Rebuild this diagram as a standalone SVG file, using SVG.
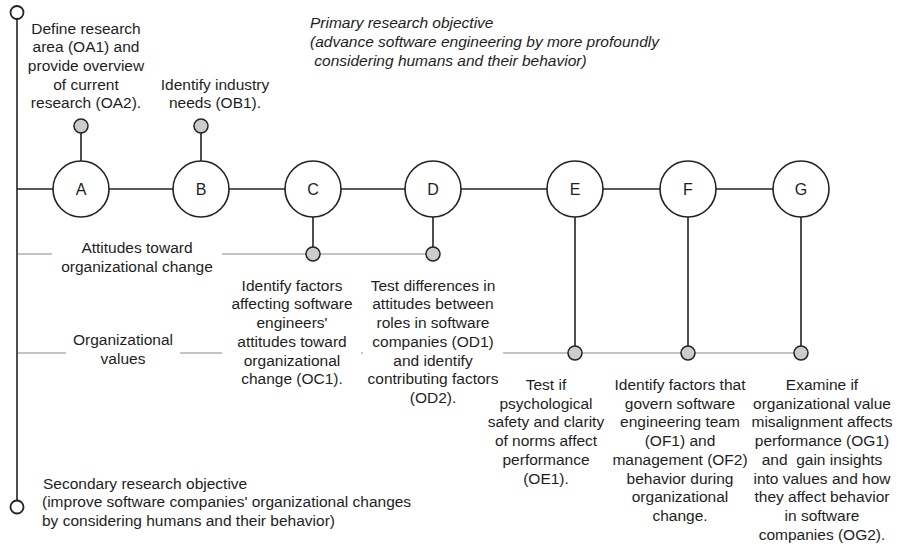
<svg xmlns="http://www.w3.org/2000/svg" width="898" height="548" viewBox="0 0 898 548">
<style>
text{font-family:"Liberation Sans",Arial,sans-serif;font-size:15.5px;fill:#1e1e1e}
.c{text-anchor:middle}
.it{font-style:italic}
.main{stroke:#222;stroke-width:1.6;fill:none}
.grey{stroke:#b0b0b0;stroke-width:1.6;fill:none}
.big{fill:#fff;stroke:#222;stroke-width:1.6}
.dot{fill:#cccccc;stroke:#222;stroke-width:1.5}
.end{fill:#fff;stroke:#222;stroke-width:1.8}
.lbl{font-size:16px;text-anchor:middle}
</style>
<rect width="898" height="548" fill="#fff"/>
<g id="connectors">
<line class="main" x1="17" y1="19" x2="17" y2="500"/>
<line class="main" x1="17" y1="189" x2="773" y2="189"/>
<line class="main" x1="81" y1="133" x2="81" y2="161"/>
<line class="main" x1="201" y1="133" x2="201" y2="161"/>
<line class="main" x1="313" y1="217" x2="313" y2="247"/>
<line class="main" x1="433" y1="217" x2="433" y2="247"/>
<line class="main" x1="575" y1="217" x2="575" y2="346"/>
<line class="main" x1="688" y1="217" x2="688" y2="346"/>
<line class="main" x1="801" y1="217" x2="801" y2="346"/>
<line class="grey" x1="18" y1="254" x2="52" y2="254"/>
<line class="grey" x1="222" y1="254" x2="426" y2="254"/>
<line class="grey" x1="18" y1="353" x2="66" y2="353"/>
<line class="grey" x1="180" y1="353" x2="222" y2="353"/>
<line class="grey" x1="361" y1="353" x2="363" y2="353"/>
<line class="grey" x1="503" y1="353" x2="794" y2="353"/>
</g>
<g id="start"><circle class="end" cx="17" cy="12.5" r="6.5"/></g>
<g id="finish"><circle class="end" cx="17" cy="507" r="6.5"/></g>
<g id="nodeA"><circle class="big" cx="81" cy="189" r="28"/><text class="lbl" x="81" y="195">A</text></g>
<g id="nodeB"><circle class="big" cx="201" cy="189" r="28"/><text class="lbl" x="201" y="195">B</text></g>
<g id="nodeC"><circle class="big" cx="313" cy="189" r="28"/><text class="lbl" x="313" y="195">C</text></g>
<g id="nodeD"><circle class="big" cx="433" cy="189" r="28"/><text class="lbl" x="433" y="195">D</text></g>
<g id="nodeE"><circle class="big" cx="575" cy="189" r="28"/><text class="lbl" x="575" y="195">E</text></g>
<g id="nodeF"><circle class="big" cx="688" cy="189" r="28"/><text class="lbl" x="688" y="195">F</text></g>
<g id="nodeG"><circle class="big" cx="801" cy="189" r="28"/><text class="lbl" x="801" y="195">G</text></g>
<g id="dotA"><circle class="dot" cx="81" cy="126" r="7"/></g>
<g id="dotB"><circle class="dot" cx="201" cy="126" r="7"/></g>
<g id="dotC"><circle class="dot" cx="313" cy="254" r="7"/></g>
<g id="dotD"><circle class="dot" cx="433" cy="254" r="7"/></g>
<g id="dotE"><circle class="dot" cx="575" cy="353" r="7"/></g>
<g id="dotF"><circle class="dot" cx="688" cy="353" r="7"/></g>
<g id="dotG"><circle class="dot" cx="801" cy="353" r="7"/></g>
<g id="textA"><text class="c"><tspan x="86" y="33.5">Define research</tspan><tspan x="86" y="52.2">area (OA1) and</tspan><tspan x="86" y="70.9">provide overview</tspan><tspan x="86" y="89.6">of current</tspan><tspan x="86" y="108.3">research (OA2).</tspan></text></g>
<g id="textB"><text class="c"><tspan x="215" y="89.6">Identify industry</tspan><tspan x="215" y="108.3">needs (OB1).</tspan></text></g>
<g id="primary"><text class="it"><tspan x="310" y="28.3">Primary research objective</tspan><tspan x="310" y="47">(advance software engineering by more profoundly</tspan><tspan x="310" y="65.7"> considering humans and their behavior)</tspan></text></g>
<g id="secondary"><text><tspan x="43" y="488.5">Secondary research objective</tspan><tspan x="42" y="507.2">(improve software companies' organizational changes</tspan><tspan x="42" y="525.9">by considering humans and their behavior)</tspan></text></g>
<g id="attitudes"><text class="c"><tspan x="137" y="253.4">Attitudes toward</tspan><tspan x="137" y="272.1">organizational change</tspan></text></g>
<g id="values"><text class="c"><tspan x="123" y="345.3">Organizational</tspan><tspan x="123" y="364">values</tspan></text></g>
<g id="textC"><text class="c"><tspan x="292" y="290.7">Identify factors</tspan><tspan x="292" y="309.4">affecting software</tspan><tspan x="292" y="328.1">engineers'</tspan><tspan x="292" y="346.8">attitudes toward</tspan><tspan x="292" y="365.5">organizational</tspan><tspan x="292" y="384.2">change (OC1).</tspan></text></g>
<g id="textD"><text class="c"><tspan x="433" y="290.7">Test differences in</tspan><tspan x="433" y="309.4">attitudes between</tspan><tspan x="433" y="328.1">roles in software</tspan><tspan x="433" y="346.8">companies (OD1)</tspan><tspan x="433" y="365.5">and identify</tspan><tspan x="433" y="384.2">contributing factors</tspan><tspan x="433" y="402.9">(OD2).</tspan></text></g>
<g id="textE"><text class="c"><tspan x="546" y="390">Test if</tspan><tspan x="546" y="408.7">psychological</tspan><tspan x="546" y="427.4">safety and clarity</tspan><tspan x="546" y="446.1">of norms affect</tspan><tspan x="546" y="464.8">performance</tspan><tspan x="546" y="483.5">(OE1).</tspan></text></g>
<g id="textF"><text class="c"><tspan x="680" y="390">Identify factors that</tspan><tspan x="680" y="408.7">govern software</tspan><tspan x="680" y="427.4">engineering team</tspan><tspan x="680" y="446.1">(OF1) and</tspan><tspan x="680" y="464.8">management (OF2)</tspan><tspan x="680" y="483.5">behavior during</tspan><tspan x="680" y="502.2">organizational</tspan><tspan x="680" y="520.9">change.</tspan></text></g>
<g id="textG"><text class="c"><tspan x="822" y="390">Examine if</tspan><tspan x="822" y="408.7">organizational value</tspan><tspan x="822" y="427.4">misalignment affects</tspan><tspan x="822" y="446.1">performance (OG1)</tspan></text><text class="c" x="822" y="464.8" xml:space="preserve">and  gain insights</text><text class="c"><tspan x="822" y="483.5">into values and how</tspan><tspan x="822" y="502.2">they affect behavior</tspan><tspan x="822" y="520.9">in software</tspan><tspan x="822" y="539.6">companies (OG2).</tspan></text></g>
</svg>
